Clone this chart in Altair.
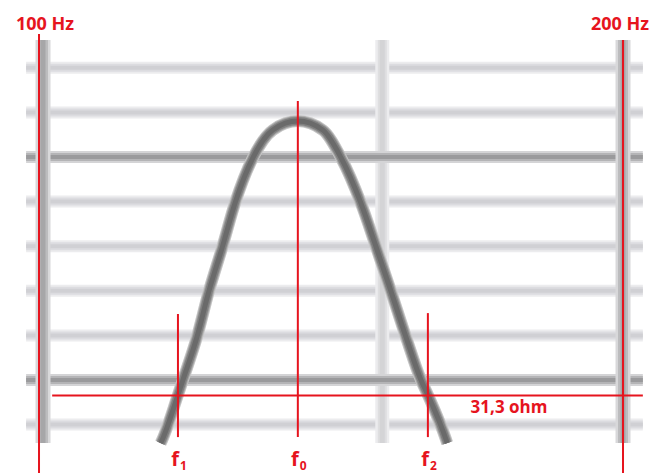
import altair as alt
import pandas as pd

# ---- grid of the impedance sheet ----
grid_hz = [100, 150, 200]
grid_hz_major = [True, False, True]
grid_ohm = [30, 32, 34, 36, 38, 40, 42, 44, 46]
grid_ohm_major = [False, True, False, False, False, False, True, False, False]
sheet_hz = [98.0, 204.8]      # horizontal extent of the printed grid
sheet_ohm = [29.17, 47.25]    # vertical extent of the printed grid

# ---- impedance curve around the resonance ----
curve_hz = [115.1, 115.3, 117.5, 118.2, 120.2, 121.9, 123.9, 125.8, 128.5, 131.6, 135.6,
            139.7, 142.8, 146.2, 148.9, 151.6, 154.3, 157.1, 158.4, 161.9, 162.1]
curve_ohm = [29.17, 29.31, 31.33, 32.0, 33.93, 35.95, 37.96, 39.94, 41.96, 43.21, 43.61,
             43.21, 41.96, 39.94, 37.96, 35.95, 33.93, 32.0, 31.33, 29.31, 29.17]

# ---- annotations ----
band_hz = [100, 200]
band_labels = ["100 Hz", "200 Hz"]
band_top = [47.52, 47.25]
f_names = ["1", "0", "2"]
f_hz = [117.5, 135.6, 158.4]
f_top = [34.96, 44.51, 35.0]
f_bottom = 29.44
z_level = 31.3
z_label = "31,3 ohm"
z_span = [101.1, 204.8]

RED = "#e6141e"
FONT = "Open Sans"

xs = alt.Scale(type="log", domain=[94.99, 208.79], nice=False, zero=False)
ys = alt.Scale(domain=[27.83, 49.04], nice=False, zero=False)

hgrid = pd.DataFrame({"ohm": grid_ohm, "major": grid_ohm_major,
                      "lo": sheet_hz[0], "hi": sheet_hz[1]})
vgrid = pd.DataFrame({"hz": grid_hz, "major": grid_hz_major,
                      "lo": sheet_ohm[0], "hi": sheet_ohm[1]})
curve = pd.DataFrame({"hz": curve_hz, "ohm": curve_ohm})
bands = pd.DataFrame({"hz": band_hz, "label": band_labels, "top": band_top,
                      "bottom": ys.domain[0]})
fmarks = pd.DataFrame({"hz": f_hz, "sub": f_names, "top": f_top, "bottom": f_bottom})
zline = pd.DataFrame({"ohm": [z_level], "lo": [z_span[0]], "hi": [z_span[1]],
                      "label": [z_label]})


def hlines(df, color, width, opacity=1.0):
    return alt.Chart(df).mark_rule(color=color, strokeWidth=width, opacity=opacity,
                                   strokeCap="butt").encode(
        x=alt.X("lo:Q", scale=xs, axis=None), x2="hi:Q",
        y=alt.Y("ohm:Q", scale=ys, axis=None))


def vlines(df, color, width, opacity=1.0):
    return alt.Chart(df).mark_rule(color=color, strokeWidth=width, opacity=opacity,
                                   strokeCap="butt").encode(
        x=alt.X("hz:Q", scale=xs, axis=None),
        y=alt.Y("lo:Q", scale=ys, axis=None), y2="hi:Q")


h_minor = hgrid[~hgrid["major"]]
h_major = hgrid[hgrid["major"]]
v_minor = vgrid[~vgrid["major"]]
v_major = vgrid[vgrid["major"]]

# soft printed grid: wide pale strokes under narrower cores
grid_layers = [
    hlines(h_minor, "#ececee", 12), hlines(h_minor, "#dcdce0", 8), hlines(h_minor, "#d0d0d4", 4),
    vlines(v_minor, "#ececee", 14), vlines(v_minor, "#dedee0", 9), vlines(v_minor, "#d4d4d6", 5),
    hlines(h_major, "#d4d4d6", 12), hlines(h_major, "#b4b4b6", 8), hlines(h_major, "#9a9a9c", 4),
    vlines(v_major, "#d8d8da", 15), vlines(v_major, "#bcbcbe", 10), vlines(v_major, "#a6a6a8", 5),
]


def curve_line(color, width, opacity=1.0):
    return alt.Chart(curve).mark_line(color=color, strokeWidth=width, opacity=opacity,
                                      interpolate="monotone", strokeCap="butt").encode(
        x=alt.X("hz:Q", scale=xs, axis=None),
        y=alt.Y("ohm:Q", scale=ys, axis=None))


curve_layers = [curve_line("#c4c4c4", 12), curve_line("#a0a0a0", 10),
                curve_line("#808080", 8), curve_line("#6a6a6a", 5)]

band_rules = [
    alt.Chart(bands.iloc[[0]]).mark_rule(color=RED, strokeWidth=2, xOffset=-4).encode(
        x=alt.X("hz:Q", scale=xs, axis=None),
        y=alt.Y("top:Q", scale=ys, axis=None), y2="bottom:Q"),
    alt.Chart(bands.iloc[[1]]).mark_rule(color=RED, strokeWidth=2).encode(
        x=alt.X("hz:Q", scale=xs, axis=None),
        y=alt.Y("top:Q", scale=ys, axis=None), y2="bottom:Q"),
]

band_text = [
    alt.Chart(bands.iloc[[0]]).mark_text(color=RED, font=FONT, fontWeight="bold",
                                         fontSize=18, align="center", dx=2,
                                         baseline="alphabetic").encode(
        x=alt.X("hz:Q", scale=xs, axis=None), y=alt.value(30), text="label:N"),
    alt.Chart(bands.iloc[[1]]).mark_text(color=RED, font=FONT, fontWeight="bold",
                                         fontSize=18, align="center", dx=-3,
                                         baseline="alphabetic").encode(
        x=alt.X("hz:Q", scale=xs, axis=None), y=alt.value(30), text="label:N"),
]

f_rules = alt.Chart(fmarks).mark_rule(color=RED, strokeWidth=2).encode(
    x=alt.X("hz:Q", scale=xs, axis=None),
    y=alt.Y("top:Q", scale=ys, axis=None), y2="bottom:Q")

f_letter = alt.Chart(fmarks).mark_text(color=RED, font=FONT, fontWeight="bold",
                                       fontSize=20, align="right", dx=1,
                                       baseline="alphabetic").encode(
    x=alt.X("hz:Q", scale=xs, axis=None), y=alt.value(466), text=alt.value("f"))

f_sub = alt.Chart(fmarks).mark_text(color=RED, font=FONT, fontWeight="bold",
                                    fontSize=12, align="left", dx=2,
                                    baseline="bottom").encode(
    x=alt.X("hz:Q", scale=xs, axis=None), y=alt.value(473), text="sub:N")

z_rule = alt.Chart(zline).mark_rule(color=RED, strokeWidth=2).encode(
    x=alt.X("lo:Q", scale=xs, axis=None), x2="hi:Q",
    y=alt.Y("ohm:Q", scale=ys, axis=None))

z_text = alt.Chart(zline).mark_text(color=RED, font=FONT, fontWeight="bold",
                                    fontSize=17, align="center",
                                    baseline="alphabetic").encode(
    x=alt.value(509), y=alt.value(413), text="label:N")

chart = alt.layer(
    *grid_layers, *curve_layers, *band_rules, f_rules, z_rule,
    *band_text, f_letter, f_sub, z_text
).properties(
    width=659, height=473, padding=0, background="white",
    autosize=alt.AutoSizeParams(type="none")
).configure_view(stroke=None)

chart.save("out.html", embed_options={"renderer": "svg", "actions": False})
